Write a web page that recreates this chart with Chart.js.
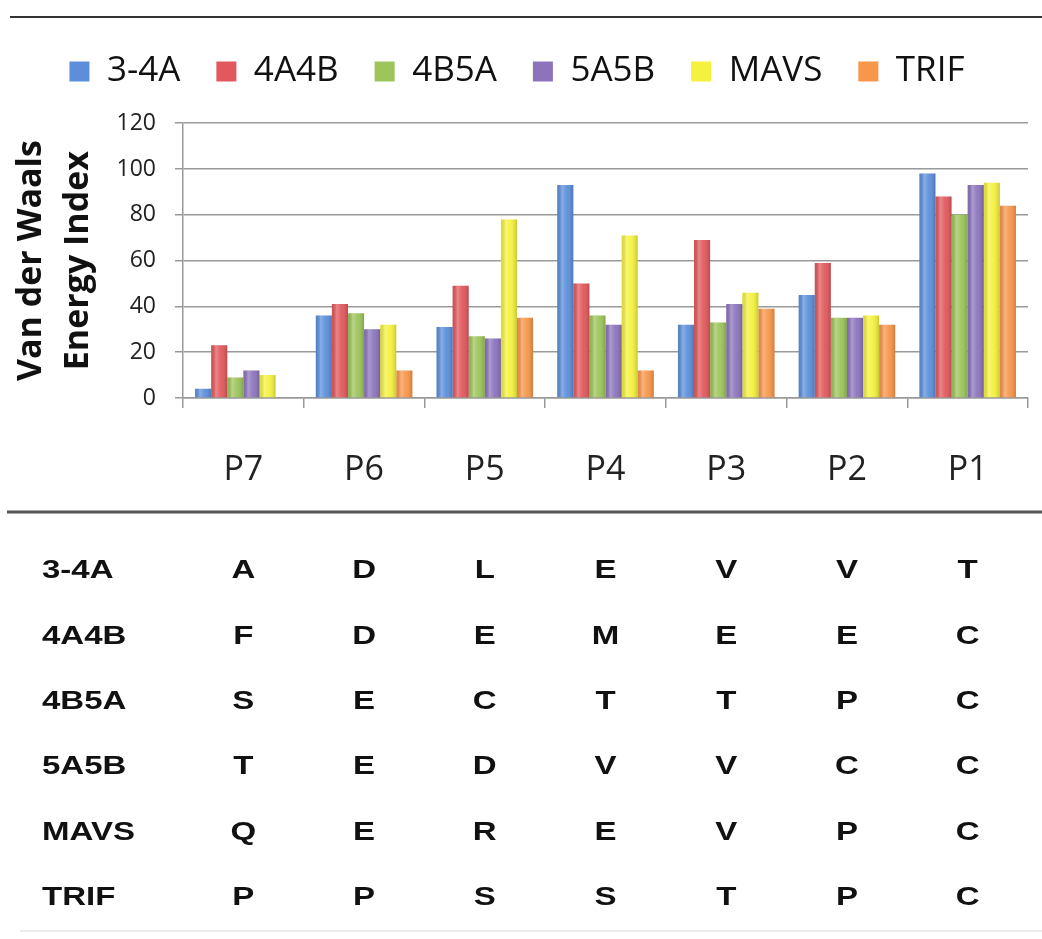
<!DOCTYPE html>
<html><head><meta charset="utf-8">
<script src="https://cdn.jsdelivr.net/npm/chart.js@4.4.1/dist/chart.umd.min.js"></script>
<style>html,body{margin:0;padding:0;background:#fff;} canvas{display:block;}</style>
</head><body>
<canvas id="c" width="1042" height="939"></canvas>
<script>
// ---- data ----
const categories = ['P7','P6','P5','P4','P3','P2','P1'];
const seriesNames = ['3-4A','4A4B','4B5A','5A5B','MAVS','TRIF'];
const v34A  = [4, 36, 31, 93, 32, 45, 98];
const v4A4B = [23, 41, 49, 50, 69, 59, 88];
const v4B5A = [9, 37, 27, 36, 33, 35, 80];
const v5A5B = [12, 30, 26, 32, 41, 35, 93];
const vMAVS = [10, 32, 78, 71, 46, 36, 94];
const vTRIF = [0, 12, 35, 12, 39, 32, 84];
const yMin = 0, yMax = 120, yStep = 20;
const yTitle = ['Van der Waals', 'Energy Index'];
const res34A  = ['A','D','L','E','V','V','T'];
const res4A4B = ['F','D','E','M','E','E','C'];
const res4B5A = ['S','E','C','T','T','P','C'];
const res5A5B = ['T','E','D','V','V','C','C'];
const resMAVS = ['Q','E','R','E','V','P','C'];
const resTRIF = ['P','P','S','S','T','P','C'];

// ---- styles ----
const colors = ['#5B8FDB','#E2585C','#9DC55A','#8C74BD','#F4F23E','#F8964A'];
const seriesValues = [v34A, v4A4B, v4B5A, v5A5B, vMAVS, vTRIF];
const residueRows = [res34A, res4A4B, res4B5A, res5A5B, resMAVS, resTRIF];

const shadePlugin = {
  id: 'shade',
  afterDatasetsDraw(chart) {
    const ctx = chart.ctx;
    ctx.save();
    chart.data.datasets.forEach((ds, i) => {
      const meta = chart.getDatasetMeta(i);
      meta.data.forEach(el => {
        const p = el.getProps(['x','y','base','width'], true);
        const l = p.x - p.width / 2;
        const top = Math.min(p.y, p.base), h = Math.abs(p.base - p.y);
        if (h <= 0) return;
        const g = ctx.createLinearGradient(l, 0, l + p.width, 0);
        g.addColorStop(0, 'rgba(0,0,0,0.08)');
        g.addColorStop(0.3, 'rgba(255,255,255,0.28)');
        g.addColorStop(0.6, 'rgba(255,255,255,0.05)');
        g.addColorStop(1, 'rgba(0,0,0,0.18)');
        ctx.fillStyle = g;
        ctx.fillRect(l, top, p.width, h);
      });
    });
    ctx.restore();
  }
};

const tablePlugin = {
  id: 'table',
  afterDraw(chart) {
    const ctx = chart.ctx;
    const xs = chart.scales.x;
    ctx.save();
    // separator lines
    ctx.strokeStyle = '#333'; ctx.lineWidth = 2;
    ctx.beginPath(); ctx.moveTo(10, 17); ctx.lineTo(1042, 17); ctx.stroke();
    ctx.strokeStyle = '#555'; ctx.lineWidth = 3;
    ctx.beginPath(); ctx.moveTo(7, 512); ctx.lineTo(1042, 512); ctx.stroke();
    ctx.strokeStyle = '#e4e4e4'; ctx.lineWidth = 1.5;
    ctx.beginPath(); ctx.moveTo(20, 931); ctx.lineTo(1042, 931); ctx.stroke();
    // residue table
    ctx.fillStyle = '#111';
    ctx.font = 'bold 26px "Liberation Sans", Arial, sans-serif';
    ctx.textBaseline = 'middle';
    const sx = 1.27;
    residueRows.forEach((row, r) => {
      const y = 571 + r * 65.4;
      ctx.save(); ctx.translate(42, y); ctx.scale(sx, 1);
      ctx.textAlign = 'left'; ctx.fillText(seriesNames[r], 0, 0);
      ctx.restore();
      row.forEach((letter, c) => {
        const x = xs.getPixelForValue(c);
        ctx.save(); ctx.translate(x, y); ctx.scale(sx, 1);
        ctx.textAlign = 'center'; ctx.fillText(letter, 0, 0);
        ctx.restore();
      });
    });
    ctx.restore();
  }
};

const chart = new Chart(document.getElementById('c'), {
  type: 'bar',
  data: {
    labels: categories,
    datasets: seriesNames.map((n, i) => ({
      label: n,
      data: seriesValues[i],
      backgroundColor: colors[i],
      borderWidth: 0,
      categoryPercentage: 0.8,
      barPercentage: 1.0
    }))
  },
  options: {
    responsive: false,
    animation: false,
    layout: { padding: { top: 18, left: 6, right: 14, bottom: 0 } },
    plugins: {
      tooltip: { enabled: false },
      legend: {
        position: 'top',
        labels: {
          font: { family: 'Open Sans', size: 35 },
          color: '#111',
          boxWidth: 20,
          boxHeight: 20,
          padding: 36
        }
      },
      title: {
        display: true, text: '', weight: 100, position: 'top',
        font: { size: 1 }, padding: { top: 0, bottom: 23 }
      }
    },
    scales: {
      x: {
        offset: true,
        grid: { display: true, drawOnChartArea: false, drawTicks: true, tickLength: 10, color: '#999', lineWidth: 1.5, offset: true },
        border: { display: true, color: '#999', width: 1.5 },
        ticks: { font: { family: 'Open Sans', size: 34 }, color: '#222', padding: 42 },
        afterFit: s => { s.height = 939 - 398; }
      },
      y: {
        min: yMin, max: yMax,
        ticks: { stepSize: yStep, font: { family: 'Open Sans', size: 23 }, color: '#222', padding: 19 },
        grid: { color: '#999', lineWidth: 1.5, tickLength: 8, drawTicks: true },
        border: { display: true, color: '#999', width: 1.5 },
        title: {
          display: true, text: yTitle,
          font: { family: 'Open Sans', size: 34, weight: 'bold', lineHeight: 1.38 },
          color: '#111', padding: { top: 2, bottom: 0 }
        },
        afterFit: s => { s.width = 183 - 6; }
      }
    }
  },
  plugins: [shadePlugin, tablePlugin]
});
</script>
</body></html>
